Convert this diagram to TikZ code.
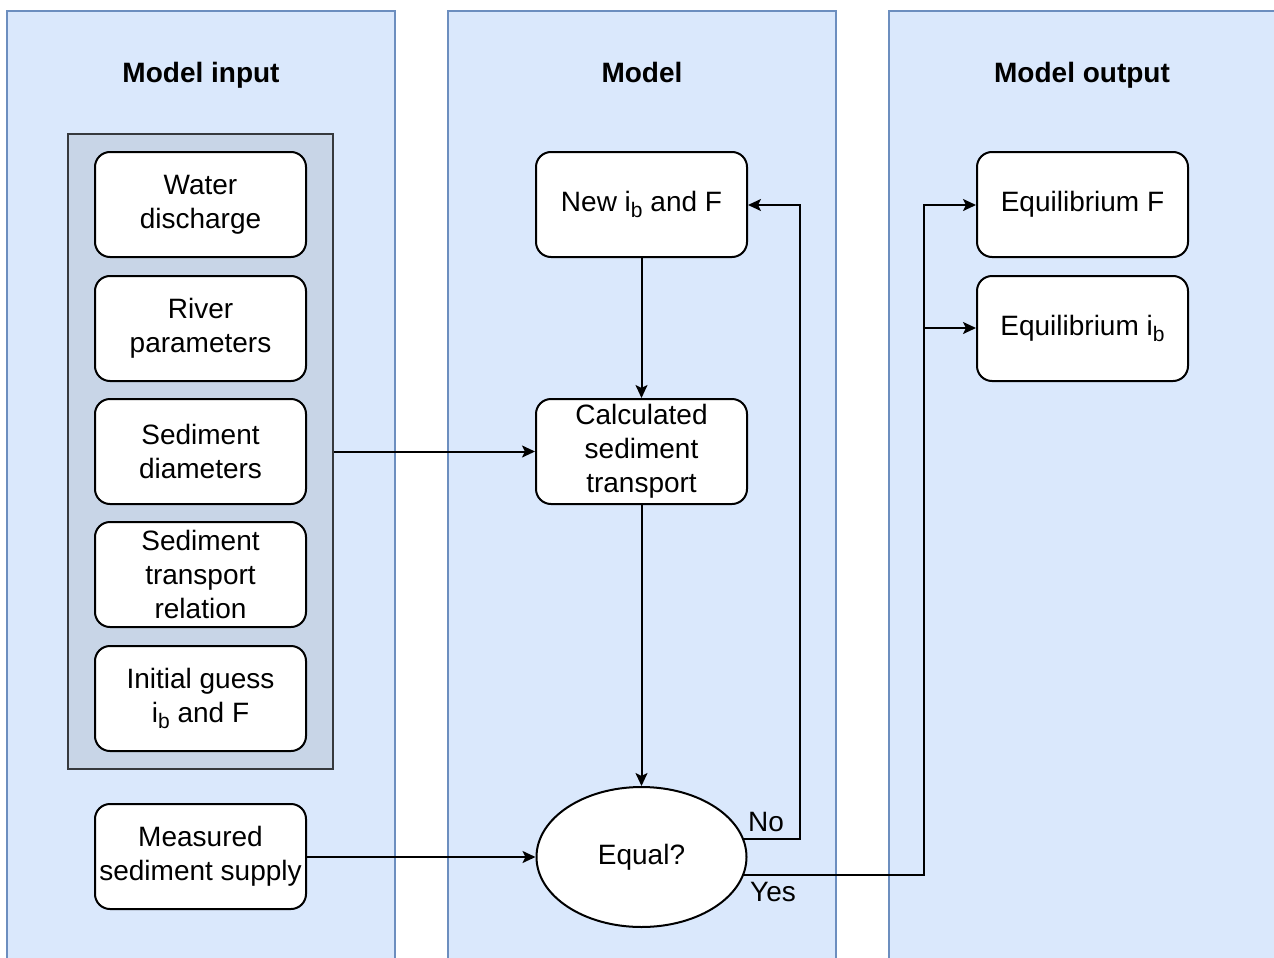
\documentclass[tikz,border=0pt]{standalone}
\usepackage{fontspec}
\setmainfont{Liberation Sans}
\usetikzlibrary{arrows.meta,shapes.geometric,calc}
\definecolor{colfill}{HTML}{DAE8FC}
\definecolor{colline}{HTML}{6C8EBF}
\definecolor{grpfill}{HTML}{C8D5E7}
\definecolor{grpline}{HTML}{36393D}
\newcommand\subb{\raisebox{-6pt}{\fontsize{21}{21}\selectfont b}}
\tikzset{
  lane/.style={fill=colfill,draw=colline,line width=1.5pt},
  lanetitle/.style={font=\fontsize{28}{34}\selectfont\bfseries,anchor=base,inner sep=0pt},
  group/.style={fill=grpfill,draw=grpline,line width=2pt},
  box/.style={draw=black,fill=white,rounded corners=15pt,line width=2pt,
    minimum width=211pt,minimum height=105pt,inner sep=0pt,align=center,
    font=\fontsize{28}{34}\selectfont},
  decision/.style={draw=black,fill=white,ellipse,line width=2pt,
    minimum width=210pt,minimum height=140pt,inner sep=0pt,
    font=\fontsize{28}{34}\selectfont},
  lbl/.style={inner sep=0pt,font=\fontsize{28}{34}\selectfont},
  arr/.style={draw=black,line width=2pt,-{Stealth[length=13pt,width=12pt,inset=3pt]}},
}
\begin{document}
\begin{tikzpicture}[x=1pt,y=-1pt]
\path[use as bounding box,clip] (0,0) rectangle (1274,958);
\fill[white] (0,0) rectangle (1274,958);
% lanes
\path[lane] (7,965) -- (7,11) -- (395,11) -- (395,965);
\path[lane] (448,965) -- (448,11) -- (836,11) -- (836,965);
\path[lane] (889,965) -- (889,11) -- (1280,11) -- (1280,965);
\node[lanetitle] (t1) at (201,82) {Model input};
\node[lanetitle] (t2) at (642,82) {Model};
\node[lanetitle] (t3) at (1082,82) {Model output};
% group
\node[group,minimum width=265pt,minimum height=635pt,inner sep=0pt] (grp) at (200.5,451.5) {};
% inputs
\node[box] (water) at (200.5,204.5) {Water\\discharge};
\node[box] (river) at (200.5,328.5) {River\\parameters};
\node[box] (diam) at (200.5,451.5) {Sediment\\diameters};
\node[box] (rel) at (200.5,574.5) {Sediment\\transport\\relation};
\node[box] (guess) at (200.5,698.5) {Initial guess\\i\subb{} and F};
\node[box] (meas) at (200.5,856.5) {Measured\\sediment supply};
% model
\node[box] (new) at (641.5,204.5) {New i\subb{} and F};
\node[box] (calc) at (641.5,451.5) {Calculated\\sediment\\transport};
\node[decision] (eq) at (641.5,857) {Equal?};
% outputs
\node[box] (eqf) at (1082.5,204.5) {Equilibrium F};
\node[box] (eqi) at (1082.5,328.5) {Equilibrium i\subb};
% connectors
\coordinate (nox) at (800,0);
\coordinate (yesx) at (924,0);
\draw[arr] (grp.east |- 0,451.5) -- (calc.west |- 0,451.5);
\draw[arr] (meas.east |- 0,857) -- (eq.west);
\draw[arr] (new.south) -- (calc.north);
\draw[arr] (calc.south) -- (eq.north);
\draw[arr] (eq.10) -- (eq.10 -| nox) |- (new.east |- 0,205);
\draw[arr] (eq.-10) -- (eq.-10 -| yesx) |- (eqf.west |- 0,205);
\draw[arr] (yesx |- 0,328) -- (eqi.west |- 0,328);
\node[lbl] (no) at (766,822) {No};
\node[lbl] (yes) at (773,892) {Yes};
\end{tikzpicture}
\end{document}
